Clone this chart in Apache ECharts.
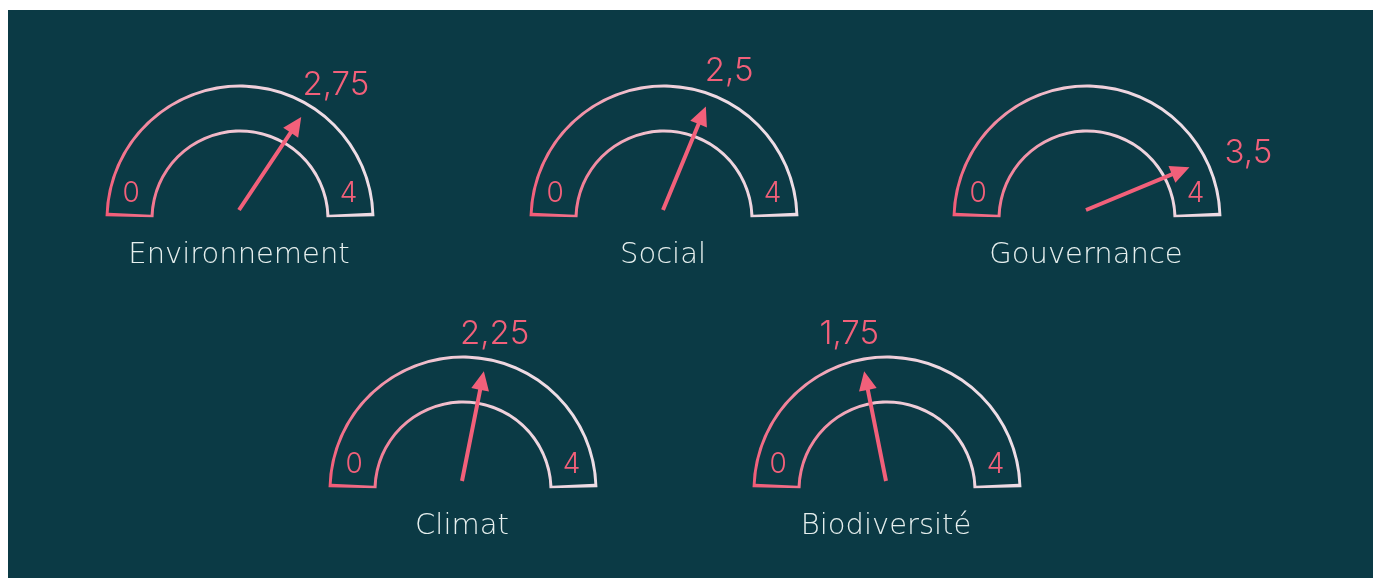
<!DOCTYPE html>
<html>
<head>
<meta charset="utf-8">
<script src="https://cdn.jsdelivr.net/npm/echarts@6/dist/echarts.min.js"></script>
<style>
  html, body { margin: 0; padding: 0; background: #fff; }
  #panel { position: absolute; left: 8px; top: 10px; right: 0; bottom: 0; background: #0b3a45; }
  #chart { position: absolute; left: 0; top: 0; width: 1373px; height: 578px; }
</style>
</head>
<body>
<div id="panel"></div>
<div id="chart"></div>
<script>
// scores per theme, scale 0..4
var categories = ['Environnement', 'Social', 'Gouvernance', 'Climat', 'Biodiversité'];
var scores = [2.75, 2.5, 3.5, 2.25, 1.75];
var scaleMin = 0;
var scaleMax = 4;

// gauge centres (px), row 1 then row 2
var centers = [[240, 219], [664, 219], [1087, 219], [463, 490], [887, 490]];

var pink = '#f2607a';
var bg = '#0b3a45';
var font = 'Inter';
var titleFont = 'DejaVu Sans';

var chart = echarts.init(document.getElementById('chart'));

function ringGradient() {
  return new echarts.graphic.LinearGradient(0, 1, 1, 0, [
    { offset: 0, color: '#f25a76' },
    { offset: 0.3, color: '#f290a6' },
    { offset: 0.5, color: '#f0c4d1' },
    { offset: 0.75, color: '#eedae3' },
    { offset: 1, color: '#ece3ea' }
  ]);
}

var hidden = {
  pointer: { show: false },
  axisTick: { show: false },
  splitLine: { show: false, length: 0, distance: 0 },
  axisLabel: { show: false },
  title: { show: false },
  detail: { show: false },
  anchor: { show: false }
};

var series = [];

// outer band (gradient) then a slightly smaller band in background colour -> outline only
centers.forEach(function (c) {
  series.push(Object.assign({
    type: 'gauge', center: c, radius: 134.5, startAngle: 178.8, endAngle: 1.2,
    min: scaleMin, max: scaleMax, silent: true,
    axisLine: { lineStyle: { width: 48, color: [[1, ringGradient()]] } },
    data: []
  }, hidden));
});
centers.forEach(function (c) {
  series.push(Object.assign({
    type: 'gauge', center: c, radius: 131.5, startAngle: 177.3, endAngle: 2.7,
    min: scaleMin, max: scaleMax, silent: true,
    axisLine: { lineStyle: { width: 42, color: [[1, bg]] } },
    data: []
  }, hidden));
});

// 0 and 4 labels inside the band ends
centers.forEach(function (c) {
  series.push({
    type: 'gauge', center: c, radius: 133, startAngle: 168, endAngle: 12,
    min: scaleMin, max: scaleMax, splitNumber: 1, silent: true,
    axisLine: { show: false, lineStyle: { width: 0 } },
    axisTick: { show: false },
    splitLine: { show: false, length: 0, distance: 0 },
    axisLabel: {
      show: true, distance: 13, color: pink,
      fontFamily: font, fontWeight: 300, fontSize: 28
    },
    pointer: { show: false },
    title: { show: false },
    detail: { show: false },
    data: []
  });
});

// arrows, value and name
centers.forEach(function (c, i) {
  var v = scores[i];
  var a = Math.PI * (1 - (v - scaleMin) / (scaleMax - scaleMin));
  series.push({
    type: 'gauge', center: [c[0] - 1, c[1] - 9], radius: 112,
    startAngle: 180, endAngle: 0, min: scaleMin, max: scaleMax,
    axisLine: { show: false, lineStyle: { width: 0 } },
    axisTick: { show: false },
    splitLine: { show: false },
    axisLabel: { show: false },
    anchor: { show: false },
    pointer: {
      show: true,
      icon: 'path://M7,112 L7,19 L0,19 L9,0 L18,19 L11,19 L11,112 Z',
      length: 112, width: 18, offsetCenter: [0, 0]
    },
    itemStyle: { color: pink },
    title: {
      offsetCenter: [0, 45], color: '#e6efee',
      fontFamily: titleFont, fontWeight: 300, fontSize: 29
    },
    detail: {
      offsetCenter: [178 * Math.cos(a) - 2, -150 * Math.sin(a)],
      color: pink, fontFamily: font, fontWeight: 300, fontSize: 33,
      formatter: function (val) { return String(val).replace('.', ','); }
    },
    data: [{ value: v, name: categories[i] }]
  });
});

chart.setOption({
  backgroundColor: 'transparent',
  animation: false,
  series: series
});
</script>
</body>
</html>
